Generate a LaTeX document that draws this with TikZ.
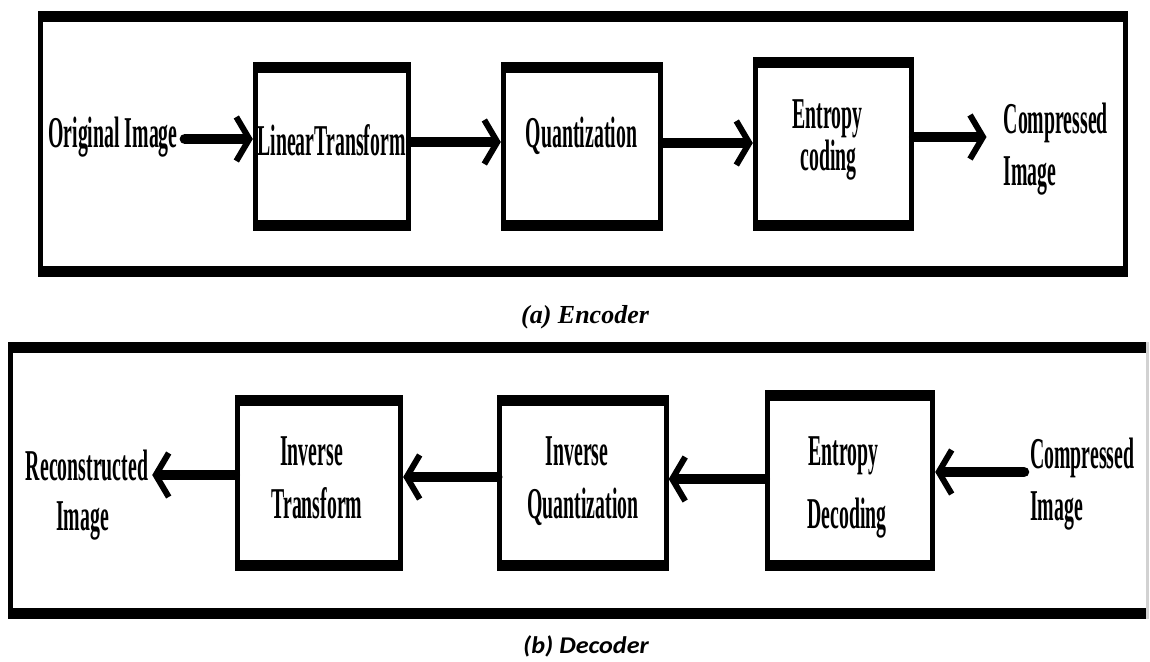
\documentclass[tikz,border=0pt]{standalone}
\usepackage{graphicx}
\usepackage{fontspec}
\setmainfont{Liberation Serif}
\newfontfamily\capfont{Carlito}
\usetikzlibrary{arrows.meta,calc}
\newcommand{\cnd}[1]{\scalebox{0.45}[1]{#1}}
% frame with thick top/bottom bands and thin sides
\newcommand{\bandframe}[3]{%
  \fill (#1.north west) rectangle ($(#1.north east)+(0,#2)$);
  \fill ($(#1.south west)+(0,-#2)$) rectangle (#1.south east);
  \fill (#1.north west) rectangle ($(#1.south west)+(#3,0)$);
  \fill ($(#1.north east)+(-#3,0)$) rectangle (#1.south east);}
\tikzset{
  boxnode/.style={draw=none, inner sep=0pt, minimum width=#1},
  lbl/.style={inner sep=0pt, anchor=base, font=\fontsize{44}{52}\selectfont\bfseries},
  lblw/.style={lbl, anchor=base west},
  conn/.style={line width=10.5pt, line cap=round,
    -{Straight Barb[length=13pt,width=44pt,line width=6pt]}},
  capa/.style={inner sep=0pt, anchor=base, font=\fontsize{26}{30}\selectfont\bfseries\itshape},
  capb/.style={inner sep=0pt, anchor=base, font=\fontsize{24}{28}\selectfont\capfont\bfseries\itshape},
}
\begin{document}
\begin{tikzpicture}[x=1pt,y=-1pt]
\useasboundingbox[fill=white] (0,0) rectangle (1150,661);

% ---------------- Encoder ----------------
\node[boxnode=1090pt, minimum height=266pt] (enc) at (583,144) {};
\node[boxnode=158pt, minimum height=169pt] (b1) at (332,146.5) {};
\node[boxnode=162pt, minimum height=169pt] (b2) at (582,146.5) {};
\node[boxnode=161pt, minimum height=174pt] (b3) at (833.5,144) {};
\bandframe{enc}{11}{5}
\bandframe{b1}{11}{5}
\bandframe{b2}{11}{5}
\bandframe{b3}{11}{5}

\node[lbl] (tOrig) at (113,147) {\cnd{Original Image}};
\node[lbl] (tLin) at (331.5,155) {\cnd{LinearTransform}};
\node[lbl] (tQ) at (581.5,147) {\cnd{Quantization}};
\node[lbl] (tEnt1) at (827.5,128) {\cnd{Entropy}};
\node[lbl] (tEnt2) at (828.5,170) {\cnd{coding}};
\node[lblw] (tComp1) at (1003.5,133) {\cnd{Compressed}};
\node[lblw] (tComp2) at (1003.5,185) {\cnd{Image}};

\draw[conn] ($(tOrig.east |- b1.west)+(7,-7.5)$) -- ($(b1.west)+(0,-7.5)$);
\draw[conn] ($(b1.east)+(0,-4.5)$) -- ($(b2.west)+(0,-4.5)$);
\draw[conn] ($(b2.east)+(0,-3.5)$) -- ($(b3.west)+(0,-1)$);
\draw[conn] ($(b3.east)+(0,-7)$) -- ($(tComp1.west |- b3.east)+(-17,-7)$);

\node[capa] (capA) at (585,323) {(a) Encoder};

% ---------------- Decoder ----------------
\node[boxnode=1141pt, minimum height=277pt] (dec) at (578.5,480.5) {};
\node[boxnode=168pt, minimum height=176pt] (d1) at (319,483) {};
\node[boxnode=171pt, minimum height=176pt] (d2) at (583,483) {};
\node[boxnode=170pt, minimum height=181pt] (d3) at (850,480.5) {};
\fill (dec.north west) rectangle ($(dec.north east)+(0,11)$);
\fill ($(dec.south west)+(0,-11)$) rectangle (dec.south east);
\fill (dec.north west) rectangle ($(dec.south west)+(5,0)$);
\fill[gray!35] ($(dec.north east)+(-3,0)$) rectangle (dec.south east);
\bandframe{d1}{11}{5}
\bandframe{d2}{11}{5}
\bandframe{d3}{11}{5}

\node[lbl] (tRec1) at (87,480) {\cnd{Reconstructed}};
\node[lbl] (tRec2) at (82.5,530) {\cnd{Image}};
\node[lbl] (tIT1) at (311.5,465) {\cnd{Inverse}};
\node[lbl] (tIT2) at (317,518) {\cnd{Transform}};
\node[lbl] (tIQ1) at (577,465) {\cnd{Inverse}};
\node[lbl] (tIQ2) at (583,518) {\cnd{Quantization}};
\node[lbl] (tED1) at (843.5,465) {\cnd{Entropy}};
\node[lbl] (tED2) at (847,528) {\cnd{Decoding}};
\node[lblw] (tDC1) at (1030,468) {\cnd{Compressed}};
\node[lblw] (tDC2) at (1030,520) {\cnd{Image}};

\draw[conn] ($(tDC1.west |- d3.east)+(-6,-8.5)$) -- ($(d3.east)+(0,-8.5)$);
\draw[conn] ($(d3.west)+(0,-1.5)$) -- ($(d2.east)+(0,-4)$);
\draw[conn] ($(d2.west)+(0,-6)$) -- ($(d1.east)+(0,-6)$);
\draw[conn] ($(d1.west)+(0,-8)$) -- ($(tRec1.east |- d1.west)+(4,-8)$);

\node[capb] (capB) at (586,653) {\scalebox{1.09}[1]{(b) Decoder}};
\end{tikzpicture}
\end{document}
